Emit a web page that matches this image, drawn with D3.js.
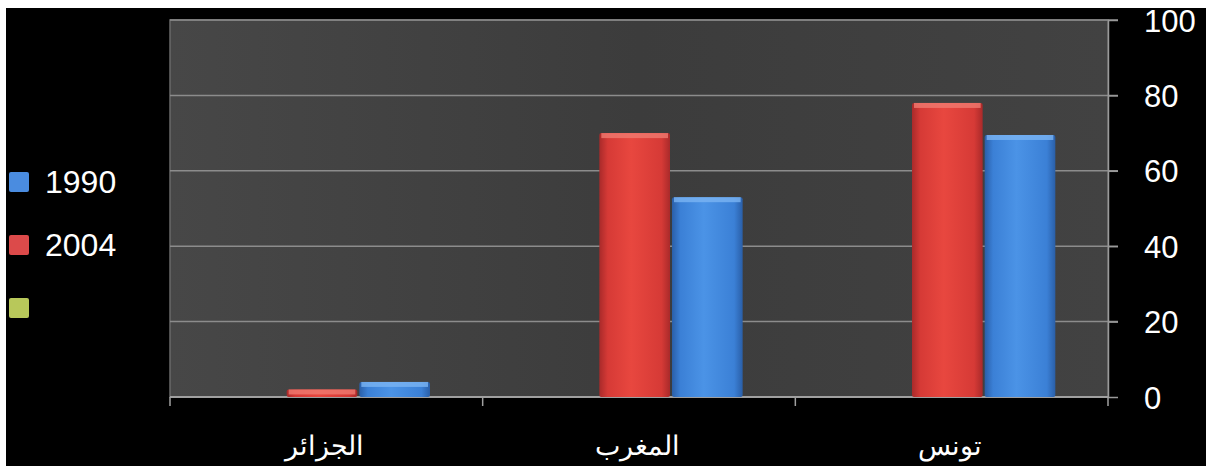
<!DOCTYPE html>
<html>
<head>
<meta charset="utf-8">
<script src="https://cdn.jsdelivr.net/npm/d3@7"></script>
<style>
  html, body { margin: 0; padding: 0; background: #fff; overflow: hidden; }
  text { font-family: "Liberation Sans", Arial, sans-serif; fill: #fff; }
</style>
</head>
<body>
<div class="chart"></div>
<script>
// data
const categories = ['الجزائر', 'المغرب', 'تونس'];
const series = ['1990', '2004', ''];
const values1990 = [4, 53, 69.5];
const values2004 = [2, 70, 78];
const valueTicks = [0, 20, 40, 60, 80, 100];

const width = 1206, height = 466;
const plot = { left: 170, right: 1108, top: 20, bottom: 397 };

const svg = d3.select('.chart')
    .append('svg')
    .attr('width', width)
    .attr('height', height);

// black sheet, white strip top/left like the scan
svg.append('rect')
    .attr('x', 6).attr('y', 8)
    .attr('width', width).attr('height', height)
    .attr('fill', '#000');

const defs = svg.append('defs');

const bg = defs.append('linearGradient').attr('id', 'plotbg')
    .attr('x1', 0).attr('y1', 0).attr('x2', 1).attr('y2', 0);
bg.append('stop').attr('offset', '0%').attr('stop-color', '#474747');
bg.append('stop').attr('offset', '50%').attr('stop-color', '#3c3c3c');
bg.append('stop').attr('offset', '100%').attr('stop-color', '#424242');

function barGradient(id, light, mid, dark) {
    const g = defs.append('linearGradient').attr('id', id)
        .attr('x1', 0).attr('y1', 0).attr('x2', 1).attr('y2', 0);
    g.append('stop').attr('offset', '0%').attr('stop-color', dark);
    g.append('stop').attr('offset', '12%').attr('stop-color', mid);
    g.append('stop').attr('offset', '45%').attr('stop-color', light);
    g.append('stop').attr('offset', '88%').attr('stop-color', mid);
    g.append('stop').attr('offset', '100%').attr('stop-color', dark);
}
barGradient('red', '#e8473f', '#d63a36', '#a92a2a');
barGradient('blue', '#4b93e6', '#3b80d6', '#2a5fa8');

// Scales
const x0 = d3.scaleBand()
    .domain(categories)
    .range([plot.left, plot.right])
    .paddingInner(0).paddingOuter(0);

// three slots per group: empty series, 2004, 1990
const x1 = d3.scaleBand()
    .domain(['', '2004', '1990'])
    .range([44, 262]);

const y = d3.scaleLinear()
    .domain([0, 100])
    .range([plot.bottom, plot.top]);

// plot area
svg.append('rect')
    .attr('x', plot.left).attr('y', plot.top)
    .attr('width', plot.right - plot.left)
    .attr('height', plot.bottom - plot.top)
    .attr('fill', 'url(#plotbg)')
    .attr('stroke', '#6a6a6a')
    .attr('stroke-width', 1.5);

// gridlines
svg.append('g')
    .selectAll('line')
    .data(valueTicks.filter(d => d > 0))
    .enter()
    .append('line')
    .attr('x1', plot.left).attr('x2', plot.right + 10)
    .attr('y1', d => y(d)).attr('y2', d => y(d))
    .attr('stroke', '#8c8c8c')
    .attr('stroke-width', 1.5);

// right value axis
const yAxis = d3.axisRight(y)
    .tickValues(valueTicks)
    .tickSize(10)
    .tickPadding(26)
    .tickSizeOuter(0);

const yAxisDraw = svg.append('g')
    .attr('class', 'y axis')
    .attr('transform', `translate(${plot.right}, 0)`)
    .call(yAxis);
yAxisDraw.select('.domain').attr('stroke', '#9a9a9a').attr('stroke-width', 1.5);
yAxisDraw.selectAll('.tick line').attr('stroke', '#9a9a9a').attr('stroke-width', 1.5);
yAxisDraw.selectAll('text')
    .style('font-size', '31px')
    .attr('fill', '#fff')
    .attr('dy', '0.36em');

// category axis
svg.append('line')
    .attr('x1', plot.left).attr('x2', plot.right)
    .attr('y1', plot.bottom).attr('y2', plot.bottom)
    .attr('stroke', '#a0a0a0').attr('stroke-width', 2);

const bounds = categories.map(c => x0(c)).concat([plot.right]);
svg.append('g')
    .selectAll('line')
    .data(bounds)
    .enter()
    .append('line')
    .attr('x1', d => d).attr('x2', d => d)
    .attr('y1', plot.bottom).attr('y2', plot.bottom + 9)
    .attr('stroke', '#a0a0a0').attr('stroke-width', 1.5);

svg.append('g')
    .selectAll('text')
    .data(categories)
    .enter()
    .append('text')
    .attr('x', d => x0(d) + x0.bandwidth() / 2 - 2)
    .attr('y', 455)
    .attr('text-anchor', 'middle')
    .attr('direction', 'rtl')
    .style('font-size', '27px')
    .text(d => d);

// bars
const barData = [];
categories.forEach((c, i) => {
    barData.push({ cat: c, s: '2004', v: values2004[i], fill: 'url(#red)', top: '#f07a70' });
    barData.push({ cat: c, s: '1990', v: values1990[i], fill: 'url(#blue)', top: '#7ab4f2' });
});

const bars = svg.append('g').selectAll('g')
    .data(barData)
    .enter()
    .append('g');

bars.append('rect')
    .attr('x', d => x0(d.cat) + x1(d.s))
    .attr('y', d => y(d.v))
    .attr('width', x1.bandwidth() - 2)
    .attr('height', d => plot.bottom - y(d.v))
    .attr('rx', 2)
    .attr('fill', d => d.fill);

// top highlight
bars.append('rect')
    .attr('x', d => x0(d.cat) + x1(d.s) + 2)
    .attr('y', d => y(d.v))
    .attr('width', x1.bandwidth() - 6)
    .attr('height', d => Math.min(5, plot.bottom - y(d.v)))
    .attr('fill', d => d.top)
    .attr('opacity', 0.8);

// legend
const legendColors = ['#4a8ce0', '#dc4a4a', '#b8c85a'];
const legend = svg.append('g')
    .selectAll('g')
    .data(series)
    .enter()
    .append('g')
    .attr('transform', (d, i) => `translate(9, ${172 + i * 63})`);

legend.append('rect')
    .attr('width', 20).attr('height', 20)
    .attr('rx', 2)
    .attr('fill', (d, i) => legendColors[i]);

legend.append('text')
    .attr('x', 36)
    .attr('y', 21)
    .style('font-size', '32px')
    .text(d => d);
</script>
</body>
</html>
